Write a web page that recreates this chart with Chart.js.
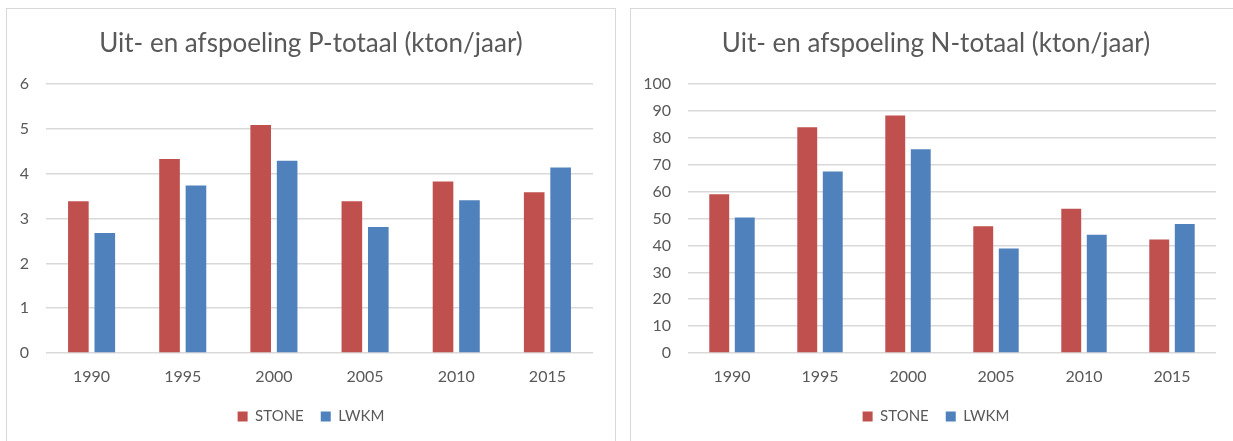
<!DOCTYPE html>
<html>
<head>
<meta charset="utf-8">
<script src="https://cdn.jsdelivr.net/npm/chart.js@4.4.0/dist/chart.umd.min.js"></script>
<style>
  html, body { margin: 0; padding: 0; background: #fff; }
  body { width: 1233px; height: 441px; position: relative; overflow: hidden; }
  .panel {
    position: absolute; top: 8px; height: 440px;
    border: 1px solid #d9d9d9; background: #fff; box-sizing: border-box;
  }
  #panel-p { left: 6px;   width: 610px; }
  #panel-n { left: 630px; width: 612px; }
  .panel canvas { position: absolute; left: 0; top: 0; }
</style>
</head>
<body>
<div class="panel" id="panel-p"><canvas id="chart-p" width="608" height="432"></canvas></div>
<div class="panel" id="panel-n"><canvas id="chart-n" width="610" height="432"></canvas></div>

<script>
// Data
const years     = ['1990', '1995', '2000', '2005', '2010', '2015'];
const pStone    = [3.39, 4.33, 5.09, 3.39, 3.83, 3.59];
const pLwkm     = [2.68, 3.74, 4.29, 2.81, 3.41, 4.14];
const nStone    = [59.1, 84.0, 88.4, 47.2, 53.7, 42.2];
const nLwkm     = [50.4, 67.5, 75.8, 38.9, 44.0, 48.0];
const seriesNames = ['STONE', 'LWKM'];

const RED   = '#C0504D';
const BLUE  = '#4F81BD';
const TEXT  = '#595959';
const GRID  = '#d9d9d9';
const FONT  = 'Lato, "Open Sans", sans-serif';

function makeChart(id, title, stone, lwkm, yMax, yStep, yWidth, rightGap) {
  const ctx = document.getElementById(id).getContext('2d');
  return new Chart(ctx, {
    type: 'bar',
    data: {
      labels: years,
      datasets: [
        { label: seriesNames[0], data: stone, backgroundColor: RED,
          categoryPercentage: 0.58, barPercentage: 0.78 },
        { label: seriesNames[1], data: lwkm,  backgroundColor: BLUE,
          categoryPercentage: 0.58, barPercentage: 0.78 },
      ],
    },
    options: {
      responsive: false,
      animation: false,
      layout: { padding: { left: 0, right: 0, top: 0, bottom: 7 } },
      plugins: {
        title: {
          display: true,
          text: title,
          color: TEXT,
          font: { family: FONT, size: 26, weight: 'normal' },
          padding: { top: 19, bottom: 25 },
        },
        legend: {
          position: 'bottom',
          labels: {
            color: TEXT,
            font: { family: FONT, size: 15 },
            boxWidth: 10,
            boxHeight: 10,
            padding: 17,
          },
        },
        tooltip: { enabled: false },
      },
      scales: {
        x: {
          grid: { display: false, drawTicks: false },
          border: { display: false },
          ticks: { color: TEXT, font: { family: FONT, size: 16 }, padding: 14 },
          afterFit: (scale) => { scale.height = 39; },
        },
        y: {
          min: 0,
          max: yMax,
          ticks: { stepSize: yStep, color: TEXT, font: { family: FONT, size: 16 }, padding: 17 },
          grid: { color: GRID, lineWidth: 1.5, drawTicks: false },
          border: { display: false },
          afterFit: (scale) => { scale.width = yWidth; },
        },
        // empty right-hand spacer so title and legend stay centred on the panel
        spacer: {
          type: 'linear',
          position: 'right',
          display: true,
          ticks: { display: false },
          grid: { display: false, drawTicks: false },
          border: { display: false },
          afterFit: (scale) => { scale.width = rightGap; },
        },
      },
    },
  });
}

makeChart('chart-p', 'Uit- en afspoeling P-totaal (kton/jaar)', pStone, pLwkm, 6, 1, 39, 22);
makeChart('chart-n', 'Uit- en afspoeling N-totaal (kton/jaar)', nStone, nLwkm, 100, 10, 57, 25);
</script>
</body>
</html>
